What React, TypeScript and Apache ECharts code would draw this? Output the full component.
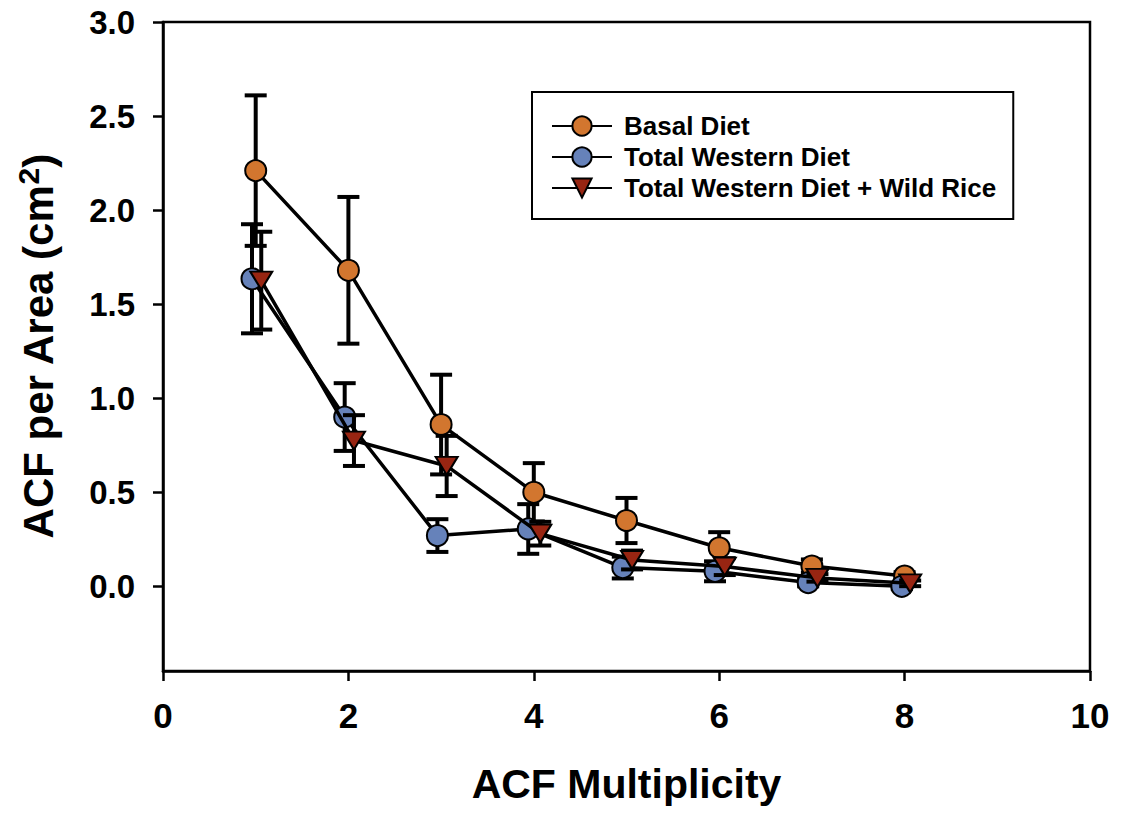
import React, { useEffect, useRef } from "react";
import * as echarts from "echarts";

const seriesNames = ["Basal Diet", "Total Western Diet", "Total Western Diet + Wild Rice"];

const basalX = [1, 2, 3, 4, 5, 6, 7, 8];
const basalY = [2.21, 1.68, 0.86, 0.5, 0.35, 0.205, 0.108, 0.055];
const basalErr = [0.4, 0.39, 0.265, 0.155, 0.12, 0.083, 0.035, 0.02];

const westernX = [0.96, 1.96, 2.96, 3.94, 4.96, 5.955, 6.96, 7.97];
const westernY = [1.635, 0.9, 0.27, 0.305, 0.1, 0.08, 0.02, 0.0];
const westernErr = [0.29, 0.18, 0.087, 0.132, 0.058, 0.053, 0.02, 0.015];

const riceX = [1.06, 2.06, 3.06, 4.07, 5.06, 6.06, 7.06, 8.06];
const riceY = [1.625, 0.775, 0.64, 0.28, 0.14, 0.105, 0.045, 0.016];
const riceErr = [0.26, 0.135, 0.16, 0.063, 0.05, 0.045, 0.02, 0.015];

const yTicks = [0, 0.5, 1.0, 1.5, 2.0, 2.5, 3.0];
const xTicks = [0, 2, 4, 6, 8, 10];

const colors = ["#D2762F", "#6682BA", "#982512"];

const FONT = "'Liberation Sans', Arial, sans-serif";

function errorSeries(xs: number[], ys: number[], es: number[], z: number) {
  return {
    type: "custom",
    name: "err" + z,
    z,
    silent: true,
    data: xs.map((x, i) => [x, ys[i], es[i]]),
    encode: { x: 0, y: 1 },
    renderItem: (params: any, api: any) => {
      const x = api.value(0);
      const y = api.value(1);
      const e = api.value(2);
      const top = api.coord([x, y + e]);
      const bot = api.coord([x, y - e]);
      const half = 11;
      const st = { stroke: "#000", lineWidth: 4 };
      return {
        type: "group",
        children: [
          { type: "line", shape: { x1: top[0], y1: top[1], x2: bot[0], y2: bot[1] }, style: st },
          { type: "line", shape: { x1: top[0] - half, y1: top[1], x2: top[0] + half, y2: top[1] }, style: st },
          { type: "line", shape: { x1: bot[0] - half, y1: bot[1], x2: bot[0] + half, y2: bot[1] }, style: st },
        ],
      };
    },
  };
}

function lineSeries(name: string, xs: number[], ys: number[], color: string, symbol: string, rotate: number, size: any, z: number) {
  return {
    type: "line",
    name,
    z,
    data: xs.map((x, i) => [x, ys[i]]),
    symbol,
    symbolRotate: rotate,
    symbolSize: size,
    showAllSymbol: true,
    lineStyle: { color: "#000", width: 3.5 },
    itemStyle: { color, borderColor: "#000", borderWidth: 2 },
    emphasis: { disabled: true },
  };
}

export default function App() {
  const ref = useRef<HTMLDivElement>(null);
  useEffect(() => {
    document.body.style.margin = "0";
    const chart = echarts.init(ref.current!, null, { renderer: "svg" });
    chart.setOption({
      animation: false,
      backgroundColor: "#fff",
      grid: {
        left: 163,
        right: 31,
        top: 22,
        bottom: 146,
        show: true,
        borderColor: "#000",
        borderWidth: 2.5,
      },
      legend: {
        data: seriesNames,
        orient: "vertical",
        left: 532,
        top: 92,
        padding: [21, 17, 18, 19],
        itemWidth: 60,
        itemHeight: 24,
        itemGap: 5,
        borderColor: "#000",
        borderWidth: 2,
        backgroundColor: "#fff",
        textStyle: {
          fontFamily: FONT,
          fontWeight: "bold",
          fontSize: 26,
          lineHeight: 24,
          color: "#000",
          padding: [0, 0, 0, 7],
        },
        selectedMode: false,
      },
      xAxis: {
        type: "value",
        min: 0,
        max: 10,
        interval: 2,
        name: "ACF Multiplicity",
        nameLocation: "middle",
        nameGap: 92,
        nameTextStyle: { fontFamily: FONT, fontWeight: "bold", fontSize: 41, color: "#000" },
        axisLine: { onZero: false, lineStyle: { color: "#000", width: 2.5 } },
        axisTick: { show: true, length: 10, lineStyle: { color: "#000", width: 2.5 } },
        axisLabel: {
          customValues: xTicks,
          fontFamily: FONT,
          fontWeight: "bold",
          fontSize: 35,
          color: "#000",
          margin: 27,
        },
        splitLine: { show: false },
      },
      yAxis: {
        type: "value",
        min: -0.45,
        max: 3.0,
        name: "ACF per Area (cm{sup|2})",
        nameLocation: "middle",
        nameGap: 100,
        nameTextStyle: {
          fontFamily: FONT,
          fontWeight: "bold",
          fontSize: 42,
          color: "#000",
          lineHeight: 50,
          rich: {
            sup: { fontFamily: FONT, fontWeight: "bold", fontSize: 30, color: "#000", verticalAlign: "top", lineHeight: 30 },
          },
        },
        axisLine: { onZero: false, lineStyle: { color: "#000", width: 2.5 } },
        axisTick: { show: true, length: 10, customValues: yTicks, lineStyle: { color: "#000", width: 2.5 } },
        axisLabel: {
          customValues: yTicks,
          formatter: (v: number) => v.toFixed(1),
          fontFamily: FONT,
          fontWeight: "bold",
          fontSize: 33,
          color: "#000",
          margin: 28,
        },
        splitLine: { show: false },
      },
      series: [
        errorSeries(basalX, basalY, basalErr, 1),
        lineSeries(seriesNames[0], basalX, basalY, colors[0], "circle", 0, 21, 2),
        errorSeries(westernX, westernY, westernErr, 3),
        lineSeries(seriesNames[1], westernX, westernY, colors[1], "circle", 0, 21, 4),
        errorSeries(riceX, riceY, riceErr, 5),
        lineSeries(seriesNames[2], riceX, riceY, colors[2], "triangle", 180, [22, 18], 6),
      ],
    });
    return () => chart.dispose();
  }, []);
  return <div ref={ref} style={{ width: 1121, height: 817 }} />;
}
